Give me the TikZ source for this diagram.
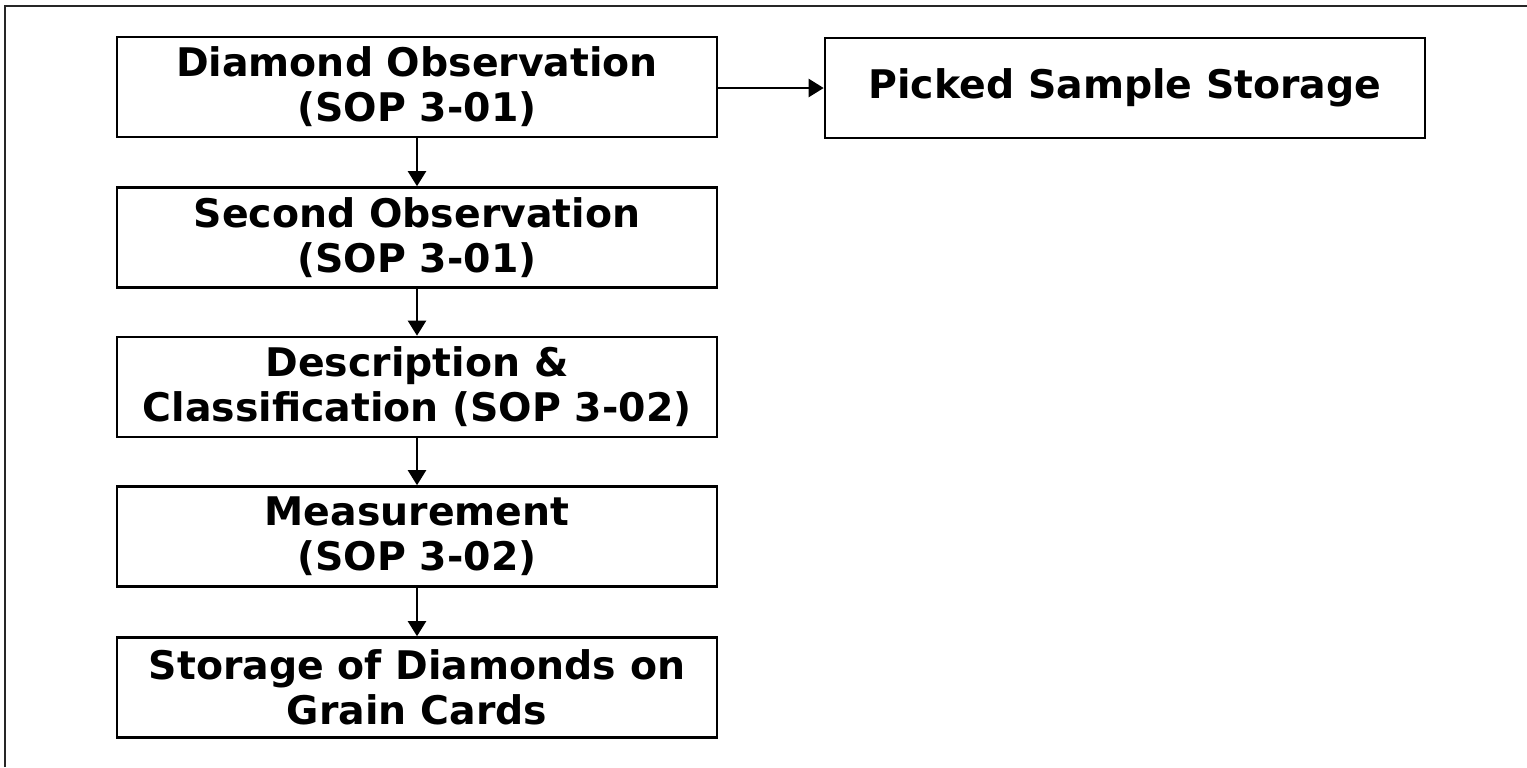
\documentclass[tikz,border=0pt]{standalone}
\usepackage{fontspec}
\setmainfont{DejaVu Sans}
\usetikzlibrary{arrows.meta}
\begin{document}
\begin{tikzpicture}[x=0.5pt,y=-0.5pt,
  stepbox/.style={draw=black, line width=1.3pt, minimum width=300pt, minimum height=50pt,
    inner sep=0pt, align=center, font=\fontsize{19.7}{22.5}\selectfont\bfseries},
  conn/.style={line width=1.1pt, -{Triangle[length=7.5pt,width=9pt]}},
  frame/.style={line width=0.8pt, draw=black!85}]
  \useasboundingbox[fill=white] (0,0) rectangle (1527,767);
  \coordinate (fa) at (5,767);
  \coordinate (fb) at (5,6);
  \coordinate (fc) at (1527,6);
  \draw[frame] (fa) -- (fb) -- (fc);
  \node[stepbox] (b1) at (417,87) {Diamond Observation\\(SOP 3-01)};
  \node[stepbox] (ps) at (1125,88) {Picked Sample Storage};
  \node[stepbox] (b2) at (417,237.5) {Second Observation\\(SOP 3-01)};
  \node[stepbox] (b3) at (417,387) {Description \&\\Classification (SOP 3-02)};
  \node[stepbox] (b4) at (417,536.5) {Measurement\\(SOP 3-02)};
  \node[stepbox] (b5) at (417,687.5) {Storage of Diamonds on\\Grain Cards};
  \draw[conn] (b1.east |- ps.west) -- (ps.west);
  \draw[conn] (b1.south) -- (b2.north);
  \draw[conn] (b2.south) -- (b3.north);
  \draw[conn] (b3.south) -- (b4.north);
  \draw[conn] (b4.south) -- (b5.north);
\end{tikzpicture}
\end{document}
